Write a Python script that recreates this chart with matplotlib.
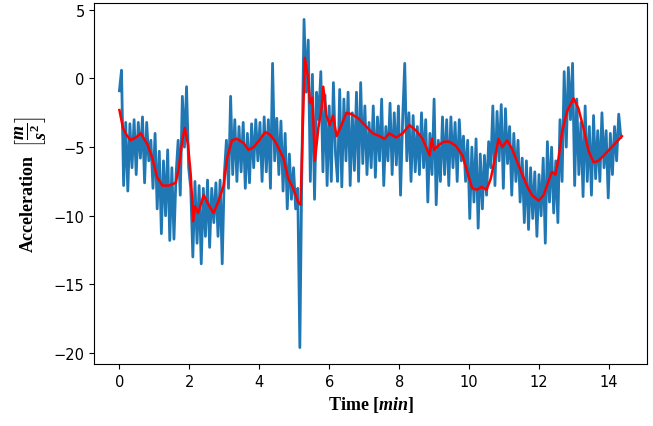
import numpy as np
import matplotlib
matplotlib.use("Agg")
import matplotlib.pyplot as plt

# raw acceleration, one sample every 0.06 min
accel = [
    -0.9, 0.6, -7.8, -3.2, -8.2, -3.3, -6.5, -3.0, -7.0, -3.2, -5.8, -2.8, -7.6, -3.2, -6.0, -4.5, -8.0,
    -4.0, -9.5, -5.3, -11.3, -6.0, -10.0, -5.2, -11.8, -6.5, -11.7, -7.0, -4.5, -8.5, -1.3, -5.0, -0.6,
    -6.5, -8.0, -13.0, -7.5, -12.0, -7.8, -13.5, -8.0, -11.5, -7.4, -12.3, -8.0, -10.5, -7.6, -11.5, -7.4,
    -13.5, -7.0, -4.5, -8.0, -1.3, -7.0, -3.0, -7.5, -3.5, -6.8, -3.2, -8.0, -4.0, -7.6, -3.3, -6.5,
    -3.0, -6.0, -3.2, -7.5, -2.8, -6.8, -3.0, -8.0, 1.1, -6.0, -2.9, -7.0, -3.1, -8.2, -4.0, -9.5,
    -5.5, -8.8, -6.5, -9.5, -8.0, -19.6, -6.0, 4.3, -1.0, 2.8, -7.5, 0.3, -8.8, -1.0, -3.0, 0.5,
    -6.8, -1.2, -7.8, -2.0, -7.5, -0.3, -5.5, -7.5, -0.8, -7.9, -1.5, -6.0, -1.0, -7.8, -2.5, -6.7,
    -1.0, -7.5, -0.3, -6.2, -2.0, -7.0, -3.2, -6.5, -2.0, -7.2, -2.8, -6.0, -1.5, -7.8, -3.5, -6.0,
    -1.8, -7.0, -2.5, -6.3, -2.0, -8.5, -3.0, 1.1, -6.0, -2.5, -7.5, -2.7, -6.8, -3.5, -7.0, -2.5,
    -6.5, -3.0, -9.0, -4.0, -7.0, -1.5, -9.2, -4.5, -7.5, -2.8, -7.0, -3.0, -7.8, -2.8, -6.5, -3.2,
    -7.5, -3.0, -6.0, -4.2, -7.5, -4.5, -10.2, -5.0, -9.0, -4.4, -10.9, -5.5, -9.5, -5.6, -8.5, -4.6,
    -6.5, -2.0, -7.8, -2.4, -6.0, -1.9, -8.0, -2.2, -6.2, -3.5, -8.5, -4.0, -7.5, -4.5, -9.0, -5.8,
    -10.5, -6.0, -11.0, -6.5, -10.2, -6.8, -11.5, -7.0, -10.0, -5.8, -12.0, -4.6, -9.0, -5.0, -9.8, -6.0,
    -10.5, -3.0, -7.5, 0.5, -5.0, 0.8, -3.0, 1.1, -7.8, -1.5, -7.0, -3.2, -8.6, -2.0, -7.5, -3.5,
    -8.5, -2.7, -7.3, -3.8, -7.5, -2.5, -6.5, -3.8, -8.7, -4.0, -7.0, -3.5, -6.0, -2.6, -4.3,
]
time_min = np.arange(len(accel)) * 0.06

# smoothed trace
smooth_t = [0.0, 0.1, 0.2, 0.32, 0.47, 0.61, 0.8, 0.94, 1.08, 1.23, 1.42, 1.61, 1.70, 1.80, 1.87,
            1.96, 2.04, 2.11, 2.16, 2.25, 2.41, 2.55, 2.69, 2.84, 2.98, 3.08, 3.22, 3.36, 3.55, 3.69,
            3.84, 4.03, 4.17, 4.31, 4.46, 4.69, 4.83, 4.97, 5.11, 5.18, 5.26, 5.30, 5.40, 5.45, 5.52,
            5.59, 5.69, 5.78, 5.83, 5.92, 6.02, 6.11, 6.21, 6.35, 6.49, 6.64, 6.83, 7.06, 7.25, 7.44,
            7.58, 7.72, 7.91, 8.10, 8.29, 8.49, 8.67, 8.87, 8.94, 9.00, 9.15, 9.29, 9.43, 9.62, 9.81,
            9.95, 10.09, 10.22, 10.36, 10.50, 10.62, 10.74, 10.84, 10.95, 11.09, 11.24, 11.38, 11.52,
            11.67, 11.80, 11.99, 12.13, 12.27, 12.37, 12.47, 12.56, 12.66, 12.80, 12.99, 13.13, 13.27,
            13.42, 13.56, 13.70, 13.89, 14.08, 14.23, 14.37]
smooth_a = [-2.3, -3.6, -4.1, -4.5, -4.3, -4.0, -4.8, -5.8, -7.2, -7.8, -7.8, -7.6, -6.5, -4.5, -3.6,
            -4.8, -7.0, -10.4, -9.3, -9.8, -8.5, -9.2, -9.8, -8.9, -7.8, -5.8, -4.5, -4.4, -4.7, -5.2,
            -5.0, -4.4, -3.9, -4.1, -4.6, -5.8, -7.3, -8.0, -9.0, -9.2, -2.2, 1.5, 0.0, -1.8, -1.4,
            -6.0, -3.6, -2.2, -0.6, -2.7, -3.4, -2.7, -4.2, -3.4, -2.5, -2.6, -2.9, -3.5, -4.0, -4.2,
            -4.4, -4.0, -4.3, -4.0, -3.4, -3.8, -4.4, -5.6, -4.4, -5.2, -4.8, -4.6, -4.6, -4.9, -5.6,
            -6.8, -8.0, -8.1, -7.9, -8.1, -7.3, -5.8, -4.4, -5.0, -4.5, -5.2, -6.1, -7.0,
            -7.9, -8.5, -8.9, -8.5, -7.5, -6.8, -7.0, -5.8, -3.9, -2.4, -1.45, -2.2, -3.6,
            -5.3, -6.1, -6.0, -5.5, -5.0, -4.6, -4.2]

plt.rcParams['mathtext.fontset'] = 'custom'
plt.rcParams['mathtext.rm'] = 'Liberation Serif:bold'
plt.rcParams['mathtext.it'] = 'Liberation Serif:italic:bold'

fig = plt.figure(figsize=(6.53, 4.27), dpi=100)
ax = fig.add_axes([0.1444, 0.1452, 0.8464, 0.8454])
ax.plot(time_min, accel, color="#1f77b4", linewidth=2.0)
ax.plot(smooth_t, smooth_a, color="red", linewidth=1.8)

ax.set_xticks([0, 2, 4, 6, 8, 10, 12, 14])
ax.set_yticks([-20, -15, -10, -5, 0, 5])
ax.tick_params(labelsize=10.5)
ax.set_xlabel(r"Time [$min$]", fontfamily="Liberation Serif", fontweight="bold", fontsize=13)
ax.set_ylabel(r"Acceleration  $\left[\dfrac{m}{s^2}\right]$", fontfamily="Liberation Serif",
              fontweight="bold", fontsize=13)

fig.savefig("out.png", dpi=100)
